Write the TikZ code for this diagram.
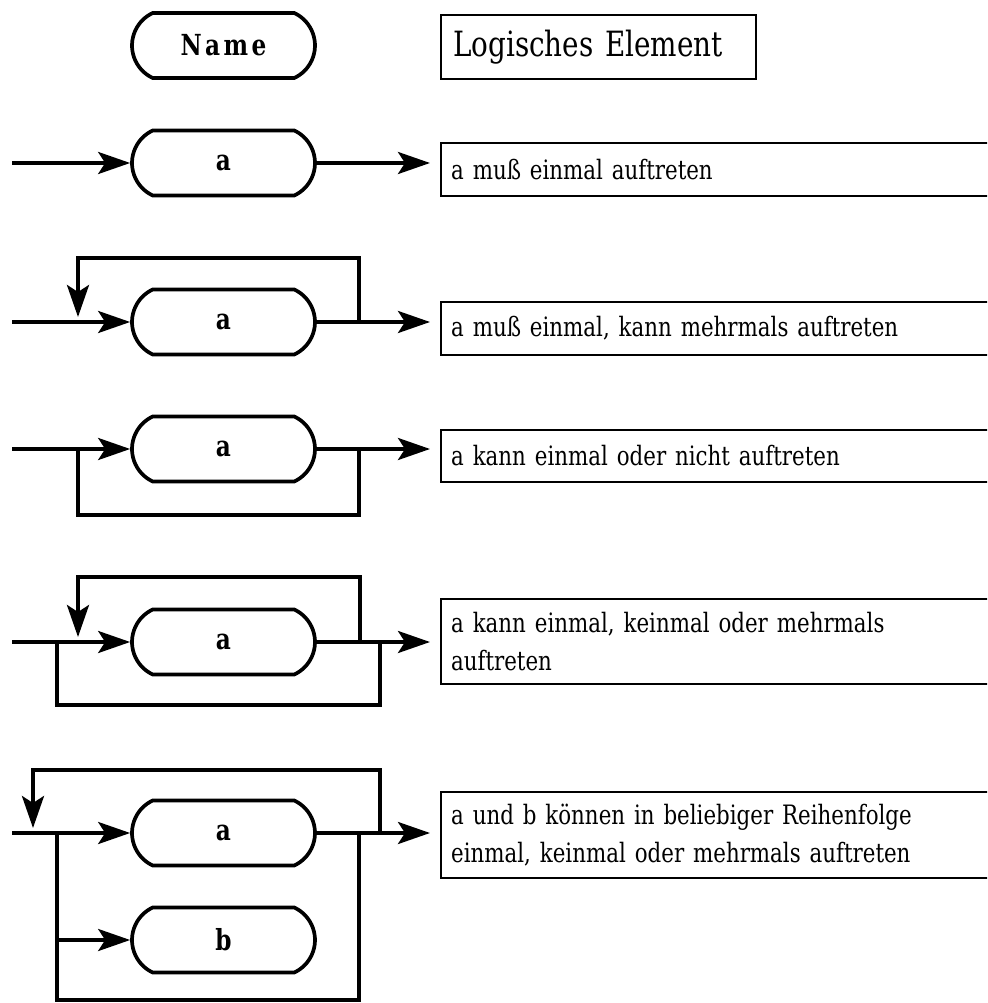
\documentclass[tikz,border=0pt]{standalone}
\usepackage{fontspec}
\setmainfont{DejaVu Serif}[FakeStretch=0.8]
\usetikzlibrary{positioning}
\usetikzlibrary{shapes.misc}
\usetikzlibrary{arrows.meta}
\tikzset{
    syntax/.style = {rounded rectangle, rounded rectangle arc length=130, draw, line width=2.1pt,
        minimum width=3.66cm, minimum height=1.3cm, inner sep=0pt, font=\fontsize{16.5}{19}\selectfont\bfseries},
    meaning/.style = {rectangle, draw, line width=1.3pt, anchor=west, minimum width=11.4cm,
        text width=11cm, inner xsep=0.2cm, align=left, font=\fontsize{15.2}{21.6}\selectfont},
    header/.style = {meaning, minimum width=6.3cm, text width=5.82cm, inner xsep=0.24cm,
        minimum height=1.28cm, font=\fontsize{19.8}{23}\selectfont},
    rail/.style = {line width=2.1pt},
    flow/.style = {rail, -{Stealth[length=0.64cm,width=0.44cm,inset=0.14cm]}}}
\begin{document}
\begin{tikzpicture}[x=0.02cm,y=-0.02cm]
    \useasboundingbox (0,0) rectangle (987,1003);
    \clip (0,0) rectangle (987,1003);
    \path (223.5,45.5) node[syntax] (name) {\addfontfeatures{LetterSpace=12}Name}
        (223.5,163) node[syntax] (a1) {a}
        (223.5,322) node[syntax] (a2) {a}
        (223.5,449) node[syntax] (a3) {a}
        (223.5,642) node[syntax] (a4) {a}
        (223.5,833) node[syntax] (a5) {a}
        (223.5,940) node[syntax] (b5) {b}
        (440,47) node[header] (head) {Logisches Element}
        (440,169.5) node[meaning, minimum height=1.06cm] (m1) {a muß einmal auftreten}
        (440,328.5) node[meaning, minimum height=1.06cm] (m2) {a muß einmal, kann mehrmals auftreten}
        (440,456) node[meaning, minimum height=1.04cm] (m3) {a kann einmal oder nicht auftreten}
        (440,641.5) node[meaning, minimum height=1.7cm] (m4) {a kann einmal, keinmal oder mehrmals\\auftreten}
        (440,835) node[meaning, minimum height=1.72cm] (m5) {a und b können in beliebiger Reihenfolge\\einmal, keinmal oder mehrmals auftreten};
    \coordinate (in1) at (12,163);
    \coordinate (out1) at (430,163);
    \coordinate (in2) at (12,322);
    \coordinate (out2) at (430,322);
    \coordinate (r2) at (359,322);
    \coordinate (l2) at (78,317);
    \coordinate (in3) at (12,449);
    \coordinate (out3) at (430,449);
    \coordinate (l3) at (78,449);
    \coordinate (r3) at (359,449);
    \coordinate (in4) at (12,642);
    \coordinate (out4) at (430,642);
    \coordinate (r4) at (360,642);
    \coordinate (l4) at (78,637);
    \coordinate (sl4) at (57,642);
    \coordinate (sr4) at (380,642);
    \coordinate (in5) at (12,833);
    \coordinate (out5) at (430,833);
    \coordinate (r5) at (380,833);
    \coordinate (l5) at (33,828);
    \coordinate (sl5) at (57,833);
    \coordinate (sb5) at (57,940);
    \coordinate (sr5) at (359,833);
    \draw[flow] (in1) -- (a1);
    \draw[flow] (a1) -- (out1);
    \draw[flow] (in2) -- (a2);
    \draw[flow] (a2) -- (out2);
    \draw[flow] (r2) -- ++(0,-64) -| (l2);
    \draw[flow] (in3) -- (a3);
    \draw[flow] (a3) -- (out3);
    \draw[rail] (l3) -- ++(0,66) -| (r3);
    \draw[flow] (in4) -- (a4);
    \draw[flow] (a4) -- (out4);
    \draw[flow] (r4) -- ++(0,-65) -| (l4);
    \draw[rail] (sl4) -- ++(0,63) -| (sr4);
    \draw[flow] (in5) -- (a5);
    \draw[flow] (a5) -- (out5);
    \draw[flow] (r5) -- ++(0,-63) -| (l5);
    \draw[rail] (sl5) -- ++(0,167) -| (sr5);
    \draw[flow] (sb5) -- (b5);
\end{tikzpicture}
\end{document}
